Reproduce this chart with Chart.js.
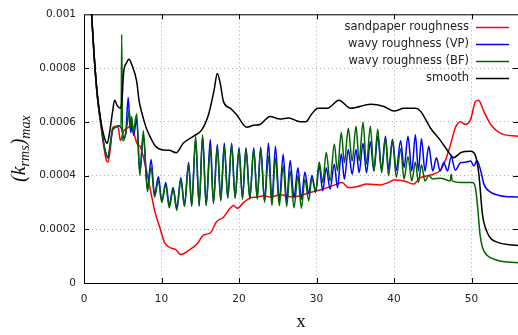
<!DOCTYPE html>
<html>
<head>
<meta charset="utf-8">
<script src="https://cdn.jsdelivr.net/npm/chart.js@4.4.1/dist/chart.umd.min.js"></script>
<style>
  html, body { margin: 0; padding: 0; background: #fff; }
  #wrap { width: 518px; height: 335px; }
</style>
</head>
<body>
<div id="wrap"><canvas id="kChart" width="518" height="335"></canvas></div>
<script>
// series names (legend order)
const seriesNames = ['sandpaper roughness', 'wavy roughness (VP)', 'wavy roughness (BF)', 'smooth'];

// tick values
const xTicks = [0, 10, 20, 30, 40, 50];
const yTicks = [0, 0.0002, 0.0004, 0.0006, 0.0008, 0.001];

// sandpaper roughness
const sandX = [0.7, 1.0, 1.3, 1.7, 2.2, 2.6, 2.9, 3.1, 3.4, 3.7, 4.1, 4.4, 4.7, 5.1, 5.6, 6.0, 6.4, 6.9, 7.2, 7.9,
  8.5, 9.2, 9.8, 10.4, 11.1, 11.8, 12.5, 13.7, 14.6, 15.4, 16.3, 17.1, 18.0, 18.9, 19.3, 19.8, 20.6, 21.4, 22.3, 23.2,
  24.0, 25.3, 27.0, 29.2, 30.9, 32.6, 33.3, 34.1, 35.4, 36.5, 38.2, 39.3, 40.0, 41.3, 42.5, 43.4, 44.7, 46.0, 46.6, 47.3,
  47.9, 48.6, 49.2, 49.9, 50.5, 50.9, 51.6, 52.5, 53.7, 56];
const sandY = [11.5e-4, 9.9e-4, 8.5e-4, 7.0e-4, 5.8e-4, 5.0e-4, 4.55e-4, 4.5e-4, 5.0e-4, 5.77e-4, 5.83e-4, 5.8e-4, 5.3e-4, 5.65e-4, 5.77e-4, 5.83e-4, 5.6e-4, 5.16e-4, 5.1e-4, 4.4e-4,
  3.55e-4, 2.6e-4, 2.05e-4, 1.5e-4, 1.32e-4, 1.25e-4, 1.06e-4, 1.25e-4, 1.46e-4, 1.78e-4, 1.87e-4, 2.28e-4, 2.45e-4, 2.8e-4, 2.88e-4, 2.78e-4, 3.0e-4, 3.16e-4, 3.2e-4, 3.25e-4,
  3.2e-4, 3.28e-4, 3.2e-4, 3.37e-4, 3.5e-4, 3.68e-4, 3.74e-4, 3.55e-4, 3.6e-4, 3.68e-4, 3.65e-4, 3.74e-4, 3.83e-4, 3.8e-4, 3.68e-4, 3.92e-4, 4.02e-4, 4.2e-4, 4.54e-4, 5.16e-4,
  5.77e-4, 6.0e-4, 5.9e-4, 6.1e-4, 6.75e-4, 6.8e-4, 6.38e-4, 5.89e-4, 5.58e-4, 5.46e-4];

// wavy roughness (VP)
const vpX = [0.7, 1.0, 1.3, 1.7, 2.2, 2.6, 2.9, 3.1, 3.4, 3.7, 4.1, 4.5, 4.75, 4.9, 5.1, 5.4, 5.7, 5.9, 6.05, 6.2,
  6.4, 6.8, 7.2, 7.66, 8.18, 8.66, 9.1, 9.6, 10.04, 10.55, 11.0, 11.5, 11.97, 12.5, 12.96, 13.5, 13.9, 14.4, 14.86, 15.3,
  15.76, 16.3, 16.7, 17.2, 17.65, 18.1, 18.55, 19.05, 19.5, 20.0, 20.45, 20.9, 21.4, 21.9, 22.35, 22.8, 23.3, 23.8, 24.25, 24.7,
  25.2, 25.7, 26.15, 26.6, 27.1, 27.6, 28.05, 28.5, 29.0, 29.4, 29.9, 30.35, 30.8, 31.26, 31.75, 32.3, 32.7, 33.2, 33.6, 34.1,
  34.6, 35.1, 35.5, 36.0, 36.45, 36.95, 37.4, 37.9, 38.4, 38.9, 39.3, 39.8, 40.3, 40.85, 41.3, 41.8, 42.3, 42.76, 43.15, 43.54,
  44.0, 44.48, 45.0, 45.48, 45.95, 46.42, 46.9, 47.38, 47.9, 48.6, 49.3, 49.9, 50.3, 50.7, 51.2, 51.6, 52.5, 53.7, 56];
const vpY = [11.5e-4, 9.9e-4, 8.5e-4, 7.0e-4, 5.9e-4, 5.1e-4, 4.75e-4, 4.65e-4, 5.2e-4, 5.7e-4, 5.8e-4, 5.85e-4, 5.8e-4, 5.7e-4, 5.4e-4, 5.6e-4, 6.9e-4, 6.0e-4, 5.6e-4, 6.0e-4,
  5.5e-4, 6.1e-4, 4.1e-4, 5.5e-4, 3.5e-4, 4.6e-4, 3.3e-4, 3.95e-4, 3.06e-4, 3.74e-4, 2.9e-4, 3.55e-4, 2.8e-4, 3.92e-4, 2.9e-4, 4.48e-4, 2.9e-4, 5.34e-4, 2.9e-4, 5.45e-4,
  2.9e-4, 5.34e-4, 3.0e-4, 5.15e-4, 3.1e-4, 5.21e-4, 3.18e-4, 5.2e-4, 3.18e-4, 5.03e-4, 3.16e-4, 5.03e-4, 3.16e-4, 5.03e-4, 3.16e-4, 5.05e-4, 3.06e-4, 5.21e-4, 3.06e-4, 5.09e-4,
  3.06e-4, 4.79e-4, 3.06e-4, 4.56e-4, 3.18e-4, 4.29e-4, 3.12e-4, 4.13e-4, 3.32e-4, 4.0e-4, 3.37e-4, 4.35e-4, 3.43e-4, 4.29e-4, 3.49e-4, 4.42e-4, 3.55e-4, 4.8e-4, 3.86e-4, 4.97e-4,
  4.05e-4, 4.97e-4, 4.1e-4, 5.2e-4, 4.1e-4, 5.26e-4, 4.17e-4, 5.45e-4, 4.23e-4, 5.46e-4, 4.23e-4, 5.35e-4, 4.2e-4, 5.3e-4, 4.3e-4, 5.46e-4, 4.17e-4, 5.52e-4, 4.17e-4, 5.37e-4,
  4.17e-4, 5.09e-4, 4.17e-4, 4.66e-4, 4.17e-4, 4.48e-4, 4.17e-4, 4.7e-4, 4.2e-4, 4.48e-4, 4.5e-4, 4.54e-4, 4.35e-4, 4.56e-4, 4.17e-4, 3.68e-4, 3.37e-4, 3.25e-4, 3.2e-4];

// wavy roughness (BF)
const bfX = [0.7, 1.0, 1.3, 1.7, 2.2, 2.6, 2.9, 3.1, 3.4, 3.7, 4.1, 4.5, 4.78, 4.87, 4.97, 5.1, 5.4, 5.7, 5.85, 6.0,
  6.15, 6.35, 6.8, 7.2, 7.66, 8.18, 8.66, 9.1, 9.6, 10.04, 10.55, 11.0, 11.5, 11.97, 12.5, 12.96, 13.5, 13.9, 14.4, 14.86,
  15.3, 15.76, 16.3, 16.7, 17.2, 17.65, 18.1, 18.55, 19.05, 19.5, 20.0, 20.45, 20.9, 21.4, 21.9, 22.35, 22.8, 23.3, 23.8, 24.25,
  24.7, 25.2, 25.7, 26.15, 26.6, 27.1, 27.6, 28.05, 28.5, 29.0, 29.4, 29.9, 30.35, 30.8, 31.26, 31.75, 32.3, 32.7, 33.2, 33.6,
  34.1, 34.6, 35.1, 35.5, 36.0, 36.45, 36.95, 37.4, 37.9, 38.4, 38.9, 39.3, 39.8, 40.3, 40.85, 41.3, 41.8, 42.3, 42.76, 43.15,
  43.54, 44.0, 44.48, 45.0, 46.0, 47.25, 47.38, 47.5, 48.6, 50.1, 50.5, 50.8, 51.1, 51.4, 52.0, 53.3, 56];
const bfY = [11.5e-4, 9.9e-4, 8.5e-4, 7.0e-4, 5.9e-4, 5.1e-4, 4.75e-4, 4.7e-4, 5.2e-4, 5.7e-4, 5.8e-4, 5.85e-4, 5.8e-4, 9.25e-4, 5.3e-4, 5.3e-4, 5.6e-4, 6.2e-4, 6.4e-4, 5.8e-4,
  6.2e-4, 5.6e-4, 6.3e-4, 4.0e-4, 5.67e-4, 3.4e-4, 4.3e-4, 3.2e-4, 3.8e-4, 3.0e-4, 3.65e-4, 2.8e-4, 3.5e-4, 2.7e-4, 3.85e-4, 2.85e-4, 4.4e-4, 2.85e-4, 5.46e-4, 2.85e-4,
  5.52e-4, 2.88e-4, 5.03e-4, 2.95e-4, 5.05e-4, 3.05e-4, 5.09e-4, 3.15e-4, 5.15e-4, 3.15e-4, 4.97e-4, 3.12e-4, 4.99e-4, 3.12e-4, 4.97e-4, 3.12e-4, 4.99e-4, 3.0e-4, 4.72e-4, 2.88e-4,
  4.66e-4, 2.88e-4, 4.35e-4, 2.85e-4, 4.17e-4, 2.8e-4, 3.99e-4, 2.78e-4, 3.86e-4, 3.06e-4, 3.9e-4, 3.43e-4, 4.5e-4, 3.74e-4, 4.87e-4, 3.8e-4, 5.17e-4, 4.17e-4, 5.6e-4, 4.47e-4,
  5.76e-4, 4.54e-4, 5.83e-4, 4.54e-4, 5.98e-4, 4.42e-4, 5.83e-4, 4.17e-4, 5.72e-4, 4.1e-4, 5.4e-4, 3.99e-4, 5.3e-4, 3.93e-4, 5.0e-4, 3.87e-4, 4.7e-4, 3.8e-4, 4.5e-4, 3.74e-4,
  4.4e-4, 3.8e-4, 4.0e-4, 3.87e-4, 3.9e-4, 3.8e-4, 4.05e-4, 3.8e-4, 3.74e-4, 3.74e-4, 3.55e-4, 2.8e-4, 1.8e-4, 1.34e-4, 1.03e-4, 0.85e-4, 0.75e-4];

// smooth
const smoothX = [0.7, 1.0, 1.3, 1.7, 2.2, 2.7, 3.0, 3.3, 3.7, 3.95, 4.3, 4.65, 4.9, 5.1, 5.5, 5.8, 6.2, 6.8, 7.1, 7.4,
  8.0, 8.6, 9.2, 10.2, 11.0, 11.9, 12.8, 14.1, 15.2, 16.1, 16.8, 17.2, 17.6, 18.0, 18.9, 19.7, 21.0, 21.9, 22.7, 24.0,
  25.3, 26.4, 27.9, 28.6, 29.4, 30.2, 31.4, 32.9, 34.4, 37.0, 38.7, 40.0, 41.3, 42.8, 43.4, 44.7, 46.0, 47.1, 47.7, 48.6,
  49.9, 50.5, 50.95, 51.4, 52.0, 53.3, 56];
const smoothY = [11.5e-4, 9.9e-4, 8.5e-4, 7.1e-4, 6.0e-4, 5.35e-4, 5.2e-4, 5.6e-4, 6.4e-4, 6.8e-4, 6.6e-4, 6.5e-4, 6.8e-4, 7.8e-4, 8.2e-4, 8.33e-4, 8.1e-4, 7.5e-4, 6.8e-4, 6.4e-4,
  5.8e-4, 5.4e-4, 5.1e-4, 4.95e-4, 4.94e-4, 4.85e-4, 5.2e-4, 5.46e-4, 5.7e-4, 6.3e-4, 7.2e-4, 7.8e-4, 7.4e-4, 6.75e-4, 6.5e-4, 6.26e-4, 5.8e-4, 5.87e-4, 5.9e-4, 6.2e-4,
  6.1e-4, 6.14e-4, 6.0e-4, 6.0e-4, 6.3e-4, 6.5e-4, 6.5e-4, 6.8e-4, 6.5e-4, 6.65e-4, 6.57e-4, 6.4e-4, 6.5e-4, 6.5e-4, 6.4e-4, 5.77e-4, 5.3e-4, 4.85e-4, 4.66e-4, 4.85e-4,
  4.9e-4, 4.75e-4, 4.05e-4, 2.58e-4, 1.9e-4, 1.52e-4, 1.4e-4];

const lineColors = ['#ff0000', '#0000ff', '#006400', '#000000'];

function pts(xs, ys) {
    return xs.map((x, i) => ({ x: x, y: ys[i] }));
}

// gnuplot-like frame: top/left/bottom border, inner ticks, key and axis labels
const framePlugin = {
    id: 'frame',
    afterDraw(chart) {
        const ctx = chart.ctx;
        const a = chart.chartArea;
        const xs = chart.scales.x;
        const ys = chart.scales.y;
        ctx.save();
        ctx.strokeStyle = '#000';
        ctx.lineWidth = 1;
        ctx.beginPath();
        ctx.moveTo(a.right, a.top + 0.5);
        ctx.lineTo(a.left + 0.5, a.top + 0.5);
        ctx.lineTo(a.left + 0.5, a.bottom + 0.5);
        ctx.lineTo(a.right, a.bottom + 0.5);
        ctx.stroke();

        ctx.beginPath();
        xTicks.slice(1).forEach(v => {
            const px = Math.round(xs.getPixelForValue(v)) + 0.5;
            ctx.moveTo(px, a.bottom);
            ctx.lineTo(px, a.bottom - 5);
            ctx.moveTo(px, a.top);
            ctx.lineTo(px, a.top + 5);
        });
        yTicks.slice(1, -1).forEach(v => {
            const py = Math.round(ys.getPixelForValue(v)) + 0.5;
            ctx.moveTo(a.left, py);
            ctx.lineTo(a.left + 5, py);
            ctx.moveTo(a.right, py);
            ctx.lineTo(a.right - 5, py);
        });
        ctx.stroke();

        // key
        ctx.font = '11.5px "DejaVu Sans"';
        ctx.textAlign = 'right';
        ctx.textBaseline = 'middle';
        chart.data.datasets.forEach((ds, i) => {
            const y = 27 + i * 17;
            ctx.fillStyle = '#222';
            ctx.fillText(ds.label, 469, y);
            ctx.strokeStyle = ds.borderColor;
            ctx.lineWidth = 1.5;
            ctx.beginPath();
            ctx.moveTo(476, y + 0.5);
            ctx.lineTo(509, y + 0.5);
            ctx.stroke();
        });

        // x label
        ctx.fillStyle = '#111';
        ctx.textAlign = 'center';
        ctx.textBaseline = 'alphabetic';
        ctx.font = '19px "Liberation Serif"';
        ctx.fillText('x', (a.left + a.right) / 2, 327);

        // y label (k_rms)_max
        const big = 'italic 20px "Liberation Serif"';
        const small = 'italic 14px "Liberation Serif"';
        const parts = [['(k', big, 0], ['rms', small, 4], [')', big, 0], ['max', small, 5]];
        let total = 0;
        parts.forEach(p => { ctx.font = p[1]; total += ctx.measureText(p[0]).width; });
        ctx.translate(25, (a.top + a.bottom) / 2);
        ctx.rotate(-Math.PI / 2);
        ctx.textAlign = 'left';
        let cx = -total / 2;
        parts.forEach(p => {
            ctx.font = p[1];
            ctx.fillText(p[0], cx, p[2]);
            cx += ctx.measureText(p[0]).width;
        });
        ctx.restore();
    }
};

const ctx = document.getElementById('kChart').getContext('2d');
new Chart(ctx, {
    type: 'line',
    data: {
        datasets: [
            { label: seriesNames[0], data: pts(sandX, sandY), borderColor: lineColors[0], order: 4 },
            { label: seriesNames[1], data: pts(vpX, vpY), borderColor: lineColors[1], order: 3 },
            { label: seriesNames[2], data: pts(bfX, bfY), borderColor: lineColors[2], order: 2 },
            { label: seriesNames[3], data: pts(smoothX, smoothY), borderColor: lineColors[3], order: 1 }
        ]
    },
    options: {
        responsive: false,
        animation: false,
        layout: { padding: { top: 12, right: 0, left: 0, bottom: 0 } },
        elements: {
            point: { radius: 0 },
            line: { borderWidth: 1.5, fill: false, cubicInterpolationMode: 'monotone' }
        },
        plugins: {
            legend: { display: false },
            tooltip: { enabled: false }
        },
        scales: {
            x: {
                type: 'linear',
                min: 0,
                max: 56,
                afterFit: s => { s.height = 52; },
                afterBuildTicks: s => { s.ticks = xTicks.map(v => ({ value: v })); },
                ticks: {
                    includeBounds: false,
                    padding: 10,
                    maxRotation: 0,
                    color: '#222',
                    font: { family: 'DejaVu Sans', size: 10.5 }
                },
                grid: { color: '#b0b0b0', lineWidth: 1, drawTicks: false },
                border: { display: false, dash: [1, 3] }
            },
            y: {
                min: 0,
                max: 0.001,
                afterFit: s => { s.width = 84; },
                afterBuildTicks: s => { s.ticks = yTicks.map(v => ({ value: v })); },
                ticks: {
                    padding: 8,
                    color: '#222',
                    font: { family: 'DejaVu Sans', size: 10.5 },
                    callback: v => String(Number(v.toFixed(4)))
                },
                grid: { color: '#b0b0b0', lineWidth: 1, drawTicks: false },
                border: { display: false, dash: [1, 3] }
            }
        }
    },
    plugins: [framePlugin]
});
</script>
</body>
</html>
